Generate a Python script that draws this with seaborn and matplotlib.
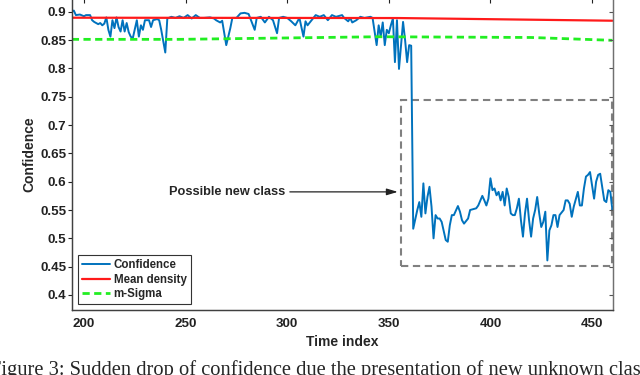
import numpy as np
import pandas as pd
import matplotlib
matplotlib.use("Agg")
import matplotlib.pyplot as plt
from matplotlib.patches import Rectangle
import seaborn as sns

# Confidence (time index, value)
conf_t = [194, 195, 196, 198, 200, 201, 203, 204, 205, 207, 208, 209, 210, 211, 212, 213, 214, 215,
          216, 217, 218, 219, 220, 221, 222, 223, 224, 226, 227, 228, 229, 230, 232, 233, 234, 236,
          237, 238, 240, 241, 243, 245, 247, 249, 251, 253, 255, 257, 259, 262, 264, 265, 267, 268,
          270, 272, 273, 275, 277, 279, 281, 284, 285, 287, 289, 291, 293, 295, 296, 298, 300, 302,
          304, 306, 308, 309, 310, 312, 314, 316, 318, 320, 322, 324, 327, 328, 330, 331, 332, 334,
          336, 338, 341, 342, 344, 345, 346, 347, 348, 349, 350, 351, 352, 353, 354, 355, 357, 358,
          359, 360, 361, 362, 364, 365, 366, 367, 368, 369, 370, 371, 372, 373, 374, 375, 376, 378,
          379, 380, 381, 382, 384, 385, 386, 387, 389, 390, 391, 393, 394, 396, 397, 398, 399, 400,
          401, 402, 403, 404, 405, 406, 407, 408, 409, 410, 411, 412, 413, 414, 415, 416, 417, 418,
          419, 420, 421, 422, 423, 424, 425, 426, 427, 428, 429, 430, 431, 432, 433, 434, 436, 437,
          438, 439, 440, 441, 443, 444, 445, 446, 447, 448, 449, 450, 451, 452, 453, 454, 455, 456,
          457, 458, 459, 460]
conf_v = [0.900, 0.902, 0.894, 0.895, 0.892, 0.894, 0.894, 0.885, 0.882, 0.878, 0.880, 0.876, 0.879,
          0.890, 0.868, 0.856, 0.885, 0.871, 0.890, 0.873, 0.865, 0.885, 0.865, 0.880, 0.864, 0.856,
          0.853, 0.885, 0.856, 0.876, 0.868, 0.885, 0.885, 0.873, 0.885, 0.887, 0.885, 0.868, 0.828,
          0.888, 0.891, 0.889, 0.892, 0.889, 0.894, 0.888, 0.894, 0.889, 0.889, 0.890, 0.888, 0.885,
          0.881, 0.884, 0.841, 0.871, 0.889, 0.889, 0.897, 0.898, 0.896, 0.868, 0.889, 0.891, 0.881,
          0.891, 0.885, 0.862, 0.889, 0.891, 0.889, 0.883, 0.876, 0.889, 0.856, 0.883, 0.876, 0.885,
          0.894, 0.891, 0.894, 0.885, 0.894, 0.891, 0.894, 0.889, 0.883, 0.889, 0.881, 0.885, 0.891,
          0.889, 0.891, 0.889, 0.841, 0.876, 0.856, 0.881, 0.841, 0.868, 0.862, 0.876, 0.888, 0.811,
          0.885, 0.799, 0.882, 0.850, 0.811, 0.841, 0.840, 0.517, 0.550, 0.564, 0.538, 0.597, 0.544,
          0.573, 0.591, 0.556, 0.500, 0.541, 0.535, 0.535, 0.529, 0.497, 0.494, 0.523, 0.541, 0.541,
          0.557, 0.547, 0.532, 0.526, 0.535, 0.550, 0.551, 0.553, 0.558, 0.575, 0.567, 0.558, 0.570,
          0.606, 0.585, 0.588, 0.576, 0.582, 0.567, 0.582, 0.558, 0.588, 0.573, 0.544, 0.541, 0.541,
          0.553, 0.570, 0.532, 0.503, 0.544, 0.570, 0.532, 0.503, 0.535, 0.550, 0.573, 0.544, 0.520,
          0.529, 0.547, 0.461, 0.514, 0.523, 0.541, 0.541, 0.520, 0.541, 0.550, 0.567, 0.567, 0.561,
          0.538, 0.556, 0.582, 0.558, 0.558, 0.588, 0.609, 0.612, 0.617, 0.594, 0.570, 0.600, 0.612,
          0.614, 0.591, 0.567, 0.564, 0.585, 0.582, 0.550]

# Mean density and m-Sigma curves (read at a few points)
mean_t = [194, 355, 460]
mean_v = [0.8894, 0.8888, 0.8841]
sigma_t = [194, 247, 345, 420, 460]
sigma_v = [0.8512, 0.8512, 0.8558, 0.8545, 0.8495]

# dashed box around the new class region
box_t = [356, 460]
box_v = [0.451, 0.745]

x_ticks = [200, 250, 300, 350, 400, 450]
y_ticks = [0.4, 0.45, 0.5, 0.55, 0.6, 0.65, 0.7, 0.75, 0.8, 0.85, 0.9]
y_ticklabels = ["0.4", "0.45", "0.5", "0.55", "0.6", "0.65", "0.7", "0.75", "0.8", "0.85", "0.9"]

caption = "Figure 3: Sudden drop of confidence due the presentation of new unknown class"

sns.set_style("white")
plt.rcParams["font.family"] = ["Liberation Sans", "DejaVu Sans"]
plt.rcParams["font.weight"] = "bold"

fig = plt.figure(figsize=(6.4, 3.75), dpi=100)
ax = fig.add_axes([0.1125, 0.1733, 0.8453, 0.8307])

sns.lineplot(x=conf_t, y=conf_v, ax=ax, color="#0072BD", lw=1.4, label="Confidence")
sns.lineplot(x=mean_t, y=mean_v, ax=ax, color="#FF1A1A", lw=1.6, label="Mean density")
sns.lineplot(x=sigma_t, y=sigma_v, ax=ax, color="#22EE22", lw=2.0,
             linestyle=(0, (2.6, 1.6)), label="m-Sigma")

ax.add_patch(Rectangle((box_t[0], box_v[0]), box_t[1] - box_t[0], box_v[1] - box_v[0],
                       fill=False, ec="#808080", lw=1.5, linestyle=(0, (3.5, 2.2)),
                       clip_on=False, zorder=1))

ax.annotate("Possible new class", xy=(354.4, 0.582), xytext=(299, 0.582),
            ha="right", va="center", fontsize=9.2, fontweight="bold",
            arrowprops=dict(arrowstyle="-|>,head_length=0.6,head_width=0.18",
                            color="#222222", lw=0.9, shrinkA=1, shrinkB=0,
                            mutation_scale=11))

ax.set_xlim(194.1, 460.3)
ax.set_ylim(0.3735, 0.9233)
ax.set_xticks(x_ticks)
ax.set_yticks(y_ticks)
ax.set_yticklabels(y_ticklabels)
ax.tick_params(axis="x", direction="in", length=3, width=0.8, top=True, pad=5.5,
               labelsize=9.6, colors="#222222")
ax.tick_params(axis="y", direction="out", length=3, width=0.8, left=True, right=False, pad=1,
               labelsize=9.6, colors="#222222")
for lab in ax.get_xticklabels() + ax.get_yticklabels():
    lab.set_fontweight("bold")

# right side ticks point inward
axr = ax.twinx()
axr.set_ylim(ax.get_ylim())
axr.set_yticks(y_ticks)
axr.tick_params(axis="y", direction="in", length=3, width=0.8, labelright=False, colors="#555555")

for a in (ax, axr):
    for s in a.spines.values():
        s.set_color("#404040")
        s.set_linewidth(0.9)
    a.spines["right"].set_color("#707070")

ax.set_xlabel("Time index", fontsize=10, fontweight="bold", labelpad=4)
ax.set_ylabel("Confidence", fontsize=10, fontweight="bold", labelpad=3)

leg = ax.legend(loc="lower left", bbox_to_anchor=(0.011, 0.019), borderaxespad=0,
                fontsize=8.3, frameon=True, fancybox=False, framealpha=1,
                edgecolor="#333333", handlelength=2.4, handletextpad=0.35,
                borderpad=0.35, labelspacing=0.2)
leg.get_frame().set_linewidth(0.8)
for t in leg.get_texts():
    t.set_fontweight("bold")

fig.text(-0.016, 0.0, caption, family=["Liberation Serif", "DejaVu Serif"],
         fontweight="normal", fontsize=14.8, va="baseline", ha="left")

fig.savefig("out.png", dpi=100)
